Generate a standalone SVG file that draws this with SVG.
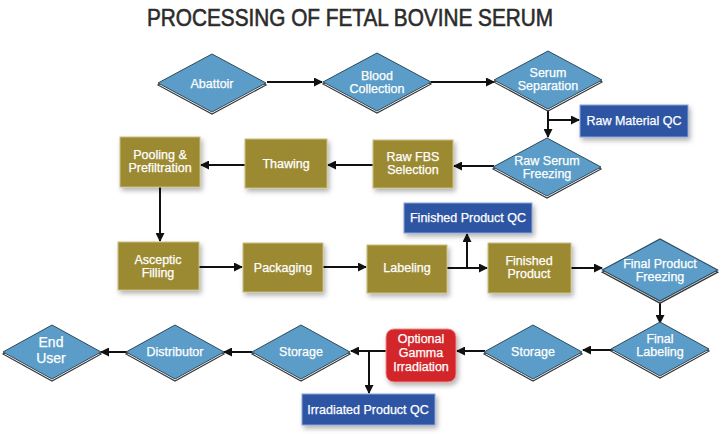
<svg xmlns="http://www.w3.org/2000/svg" width="725" height="434" viewBox="0 0 725 434">
<defs>
<style>
.title{font-family:"Liberation Sans Narrow","Liberation Sans",Arial,sans-serif;font-size:24px;fill:#2b2b2b;stroke:#2b2b2b;stroke-width:0.6}
.lbl{font-family:"Liberation Sans Narrow","Liberation Sans",Arial,sans-serif;font-size:12.5px;fill:#ffffff;text-anchor:middle;stroke:#ffffff;stroke-width:0.25}
.big{font-size:14px}
.dia{fill:#5b9dc8;stroke:#2d4a5c;stroke-width:1}
.diab{fill:#ffffff;stroke:#3a3a3a;stroke-width:1.2}
.box{fill:#9c8a30;stroke:#c9bd82;stroke-width:1}
.qc{fill:#2f55a4;stroke:#8aa3d6;stroke-width:1}
.red{fill:#d3282b;stroke:#f08a8a;stroke-width:1}
.con{fill:none;stroke:#111111;stroke-width:2}
</style>
<filter id="sh" x="-20%" y="-20%" width="150%" height="160%">
<feDropShadow dx="2" dy="3" stdDeviation="2.5" flood-color="#000" flood-opacity="0.3"/>
</filter>
<marker id="ah" markerWidth="9" markerHeight="9" refX="8" refY="4.5" orient="auto" markerUnits="userSpaceOnUse">
<path d="M0,0 L9,4.5 L0,9 z" fill="#111111"/>
</marker>
<g id="dmd">
<path class="diab" d="M-54,2 L0,31 L54,2 L0,-27 z"/>
<path class="dia" d="M-54,0 L0,-29 L54,0 L0,29 z"/>
</g>
<g id="dms">
<path class="diab" d="M-49,2 L0,29 L49,2 L0,-25 z"/>
<path class="dia" d="M-49,0 L0,-27 L49,0 L0,27 z"/>
</g>
</defs>
<rect width="725" height="434" fill="#ffffff"/>
<text class="title" x="350" y="26" text-anchor="middle" textLength="406" lengthAdjust="spacingAndGlyphs">PROCESSING OF FETAL BOVINE SERUM</text>

<g id="connectors">
<path class="con" marker-end="url(#ah)" d="M267,82 H322"/>
<path class="con" marker-end="url(#ah)" d="M431,82 H494"/>
<path class="con" marker-end="url(#ah)" d="M548,109 V137"/>
<path class="con" marker-end="url(#ah)" d="M548,120 H579"/>
<path class="con" marker-end="url(#ah)" d="M494,166 H454"/>
<path class="con" marker-end="url(#ah)" d="M373,165 H328"/>
<path class="con" marker-end="url(#ah)" d="M245,165 H201"/>
<path class="con" marker-end="url(#ah)" d="M160,187 V241"/>
<path class="con" marker-end="url(#ah)" d="M199,267 H242"/>
<path class="con" marker-end="url(#ah)" d="M323,267 H366"/>
<path class="con" marker-end="url(#ah)" d="M447,268 H487"/>
<path class="con" marker-end="url(#ah)" d="M467,268 V234"/>
<path class="con" marker-end="url(#ah)" d="M571,268 H602"/>
<path class="con" marker-end="url(#ah)" d="M660,302 V323"/>
<path class="con" marker-end="url(#ah)" d="M612,350 H583"/>
<path class="con" marker-end="url(#ah)" d="M485,351 H457"/>
<path class="con" marker-end="url(#ah)" d="M386,351 H351"/>
<path class="con" marker-end="url(#ah)" d="M369,351 V393"/>
<path class="con" marker-end="url(#ah)" d="M252,352 H224"/>
<path class="con" marker-end="url(#ah)" d="M127,352 H101"/>
</g>

<g id="abattoir"><use href="#dmd" x="212" y="83"/><text class="lbl" x="212" y="88">Abattoir</text></g>
<g id="blood-collection"><use href="#dmd" x="377" y="82"/><text class="lbl" x="377" y="80">Blood</text><text class="lbl" x="377" y="93">Collection</text></g>
<g id="serum-separation"><use href="#dmd" x="548" y="80"/><text class="lbl" x="548" y="77">Serum</text><text class="lbl" x="548" y="90">Separation</text></g>
<g id="raw-material-qc"><rect class="qc" x="580" y="105" width="108" height="32" filter="url(#sh)"/><text class="lbl" x="634" y="125">Raw Material QC</text></g>
<g id="raw-serum-freezing"><use href="#dmd" x="547" y="167"/><text class="lbl" x="547" y="165">Raw Serum</text><text class="lbl" x="547" y="178">Freezing</text></g>

<g id="raw-fbs-selection"><rect class="box" x="373" y="140" width="80" height="48" filter="url(#sh)"/><text class="lbl" x="413" y="161">Raw FBS</text><text class="lbl" x="413" y="174">Selection</text></g>
<g id="thawing"><rect class="box" x="245" y="139" width="82" height="49" filter="url(#sh)"/><text class="lbl" x="286" y="168">Thawing</text></g>
<g id="pooling"><rect class="box" x="120" y="137" width="80" height="50" filter="url(#sh)"/><text class="lbl" x="160" y="159">Pooling &amp;</text><text class="lbl" x="160" y="172">Prefiltration</text></g>

<g id="asceptic-filling"><rect class="box" x="118" y="242" width="81" height="48" filter="url(#sh)"/><text class="lbl" x="158" y="264">Asceptic</text><text class="lbl" x="158" y="277">Filling</text></g>
<g id="packaging"><rect class="box" x="243" y="243" width="80" height="49" filter="url(#sh)"/><text class="lbl" x="283" y="272">Packaging</text></g>
<g id="labeling"><rect class="box" x="367" y="245" width="80" height="48" filter="url(#sh)"/><text class="lbl" x="407" y="272">Labeling</text></g>
<g id="finished-product-qc"><rect class="qc" x="404" y="203" width="128" height="30" filter="url(#sh)"/><text class="lbl" x="468" y="222">Finished Product QC</text></g>
<g id="finished-product"><rect class="box" x="488" y="243" width="83" height="50" filter="url(#sh)"/><text class="lbl" x="529" y="265">Finished</text><text class="lbl" x="529" y="278">Product</text></g>
<g id="final-product-freezing"><use href="#dmd" x="660" y="270" transform="translate(660 270) scale(1.07 1.07) translate(-660 -270)"/><text class="lbl" x="660" y="268">Final Product</text><text class="lbl" x="660" y="281">Freezing</text></g>

<g id="final-labeling"><use href="#dms" x="660" y="349"/><text class="lbl" x="660" y="343">Final</text><text class="lbl" x="660" y="356">Labeling</text></g>
<g id="storage-1"><use href="#dms" x="533" y="352"/><text class="lbl" x="533" y="356">Storage</text></g>
<g id="gamma-irradiation"><rect class="red" x="386" y="329" width="70" height="53" rx="8" filter="url(#sh)"/><text class="lbl" x="421" y="343">Optional</text><text class="lbl" x="421" y="357">Gamma</text><text class="lbl" x="421" y="371">Irradiation</text></g>
<g id="irradiated-product-qc"><rect class="qc" x="302" y="394" width="133" height="31" filter="url(#sh)"/><text class="lbl" x="368" y="414">Irradiated Product QC</text></g>
<g id="storage-2"><use href="#dms" x="301" y="352"/><text class="lbl" x="301" y="356">Storage</text></g>
<g id="distributor"><use href="#dms" x="175" y="352"/><text class="lbl" x="175" y="356">Distributor</text></g>
<g id="end-user"><use href="#dms" x="52" y="352"/><text class="lbl big" x="51" y="347">End</text><text class="lbl big" x="51" y="363">User</text></g>
</svg>
